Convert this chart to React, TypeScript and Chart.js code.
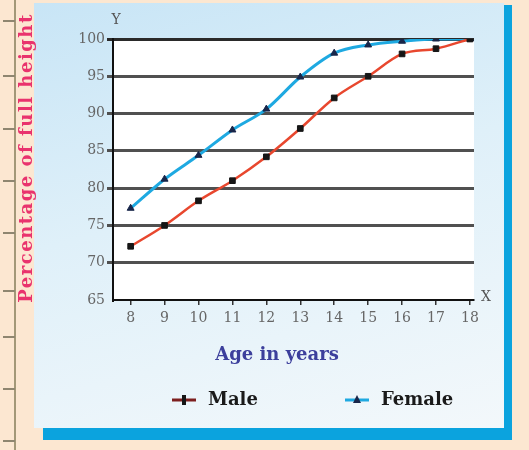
import React, { useEffect, useRef } from "react";
import { Chart, registerables } from "chart.js";

Chart.register(...registerables);

// ---- data ----
const AGES = [8, 9, 10, 11, 12, 13, 14, 15, 16, 17, 18];
const MALE = [72.2, 75, 78.3, 81, 84.2, 88, 92.1, 95, 98, 98.7, 100];
const FEMALE = [77.3, 81.2, 84.4, 87.8, 90.6, 94.9, 98.1, 99.2, 99.7, 100, 100];
const Y_TICKS = [65, 70, 75, 80, 85, 90, 95, 100];
const SERIES_LABELS = ["Male", "Female"];
const X_TITLE = "Age in years";
const Y_TITLE = "Percentage of full height";
const X_LETTER = "X";
const Y_LETTER = "Y";

const SERIF = "'DejaVu Serif', serif";
const RULER_TICKS = [20, 75, 128, 180, 232, 290, 336, 388, 440];

export default function App() {
  const ref = useRef<HTMLCanvasElement>(null);

  useEffect(() => {
    document.body.style.margin = "0";
    const canvas = ref.current;
    if (!canvas) return;

    const plotBg = {
      id: "plotBg",
      beforeDraw(chart: any) {
        const { ctx, chartArea } = chart;
        const { left, top, right, bottom } = chartArea;
        ctx.save();
        ctx.fillStyle = "#ffffff";
        ctx.fillRect(left, top, right - left, bottom - top);
        ctx.restore();
      },
    };

    const legendPos = [172, 345];
    const extras = {
      id: "extras",
      afterDraw(chart: any) {
        const { ctx, chartArea } = chart;
        ctx.save();
        ctx.fillStyle = "#555";
        ctx.font = `14px ${SERIF}`;
        ctx.textAlign = "center";
        ctx.textBaseline = "middle";
        ctx.fillText(Y_LETTER, chartArea.left + 3, 20);
        ctx.fillText(X_LETTER, chartArea.right + 12, chartArea.bottom - 3);

        // axis titles
        ctx.fillStyle = "#3c3f9c";
        ctx.font = `bold 18px ${SERIF}`;
        ctx.fillText(X_TITLE, 277, 355);

        ctx.save();
        ctx.translate(27, 158);
        ctx.rotate(-Math.PI / 2);
        ctx.fillStyle = "#e9336d";
        ctx.font = `bold 18px ${SERIF}`;
        (ctx as any).letterSpacing = "1.5px";
        ctx.fillText(Y_TITLE, 0, 0);
        ctx.restore();

        // legend
        chart.data.datasets.forEach((ds: any, i: number) => {
          const x0 = legendPos[i];
          const y = 400;
          ctx.strokeStyle = ds.legendLine;
          ctx.lineWidth = 3;
          ctx.beginPath();
          ctx.moveTo(x0, y);
          ctx.lineTo(x0 + 24, y);
          ctx.stroke();
          ctx.fillStyle = ds.pointBackgroundColor;
          const cx = x0 + 12;
          if (ds.pointStyle === "rect") {
            ctx.fillRect(cx - 2, y - 5, 4, 10);
          } else {
            ctx.beginPath();
            ctx.moveTo(cx, y - 5);
            ctx.lineTo(cx + 4, y + 3);
            ctx.lineTo(cx - 4, y + 3);
            ctx.closePath();
            ctx.fill();
          }
          ctx.fillStyle = "#1a1a1a";
          ctx.font = `bold 18px ${SERIF}`;
          ctx.textAlign = "left";
          ctx.textBaseline = "middle";
          ctx.fillText(ds.label, x0 + 36, y);
        });
        ctx.restore();
      },
    };

    const chart = new Chart(canvas, {
      type: "line",
      data: {
        labels: AGES,
        datasets: [
          {
            label: SERIES_LABELS[0],
            data: AGES.map((a, i) => ({ x: a, y: MALE[i] })),
            borderColor: "#e8472e",
            borderWidth: 2.5,
            pointStyle: "rect",
            pointRadius: 4,
            pointBorderWidth: 1,
            pointBackgroundColor: "#161616",
            pointBorderColor: "#161616",
            cubicInterpolationMode: "monotone",
            legendLine: "#7d1f1f",
          } as any,
          {
            label: SERIES_LABELS[1],
            data: AGES.map((a, i) => ({ x: a, y: FEMALE[i] })),
            borderColor: "#1ea9e1",
            borderWidth: 3,
            pointStyle: "triangle",
            pointRadius: 4,
            pointBorderWidth: 1,
            pointBackgroundColor: "#18264a",
            pointBorderColor: "#18264a",
            cubicInterpolationMode: "monotone",
            legendLine: "#1ea9e1",
          } as any,
        ],
      },
      options: {
        responsive: false,
        animation: false,
        layout: { padding: { top: 39, right: 55, bottom: 70, left: 0 } },
        plugins: {
          legend: { display: false },
          tooltip: { enabled: false },
        },
        scales: {
          x: {
            type: "linear",
            min: 7.48,
            max: 18.12,
            afterBuildTicks: (s: any) => {
              s.ticks = AGES.map((v) => ({ value: v }));
            },
            afterFit: (s: any) => {
              s.height = 80;
            },
            grid: {
              drawOnChartArea: false,
              drawTicks: true,
              tickLength: 5,
              color: "#333",
              lineWidth: 1.5,
            },
            border: { display: true, color: "#111", width: 2 },
            ticks: {
              color: "#666",
              font: { family: SERIF, size: 14 },
              padding: 5,
              maxRotation: 0,
              autoSkip: false,
            },
            title: { display: false },
          },
          y: {
            min: 65,
            max: 100,
            afterBuildTicks: (s: any) => {
              s.ticks = Y_TICKS.map((v) => ({ value: v }));
            },
            afterFit: (s: any) => {
              s.width = 113;
            },
            grid: {
              color: (c: any) =>
                c.tick && c.tick.value === 65
                  ? "rgba(0,0,0,0)"
                  : c.tick && c.tick.value === 100
                  ? "#2a2a2a"
                  : "#505050",
              lineWidth: 3,
              tickLength: 6,
            },
            border: { display: true, color: "#111", width: 2 },
            ticks: {
              color: "#666",
              font: { family: SERIF, size: 14 },
              padding: 2,
            },
            title: { display: false },
          },
        },
      } as any,
      plugins: [plotBg, extras],
    });

    return () => chart.destroy();
  }, []);

  return (
    <div
      style={{
        position: "fixed",
        left: 0,
        top: 0,
        width: 529,
        height: 450,
        background: "#fce7d1",
        overflow: "hidden",
      }}
    >
      <div style={{ position: "absolute", left: 14, top: 0, width: 2, height: 450, background: "#a39878" }} />
      {RULER_TICKS.map((t) => (
        <div key={t} style={{ position: "absolute", left: 3, top: t, width: 12, height: 2, background: "#8f8670" }} />
      ))}
      <div
        style={{
          position: "absolute",
          left: 34,
          top: 3,
          width: 470,
          height: 425,
          background: "linear-gradient(165deg, #c8e5f6 0%, #dff0f9 45%, #f3f8fb 100%)",
        }}
      />
      <div style={{ position: "absolute", left: 504, top: 5, width: 8, height: 435, background: "#0ba3de" }} />
      <div style={{ position: "absolute", left: 43, top: 428, width: 469, height: 12, background: "#0ba3de" }} />
      <canvas
        ref={ref}
        width={529}
        height={450}
        style={{ position: "absolute", left: 0, top: 0, width: 529, height: 450 }}
      />
    </div>
  );
}
